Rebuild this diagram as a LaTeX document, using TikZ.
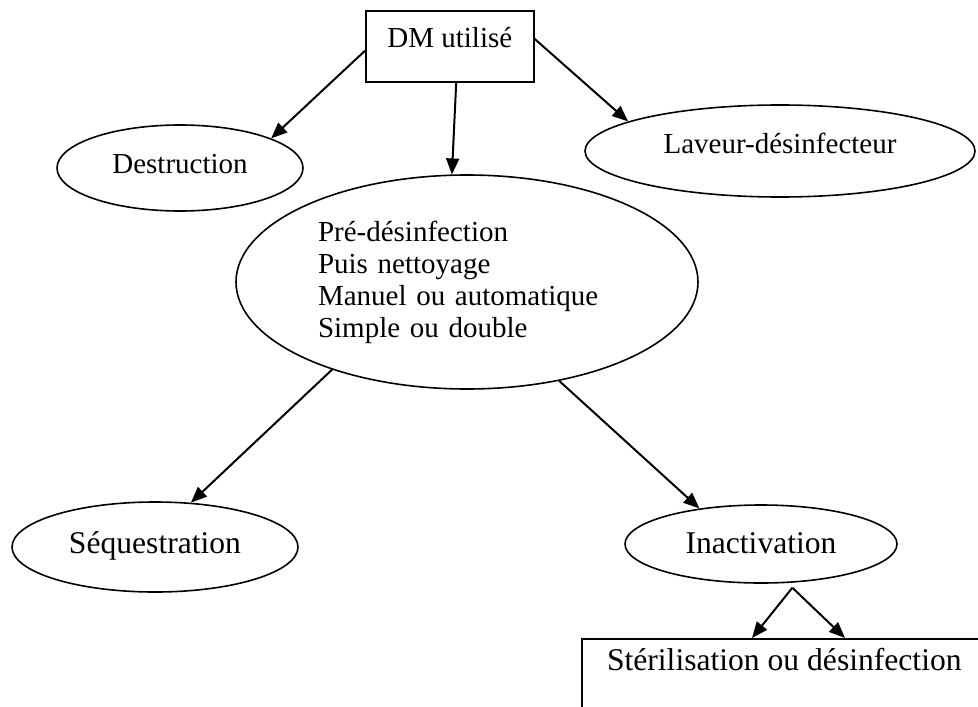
\documentclass[tikz,border=0pt]{standalone}
\usepackage{fontspec}
\setmainfont{Liberation Serif}
\usepackage{tikz}
\usetikzlibrary{shapes.geometric, arrows.meta}

\begin{document}
\begin{tikzpicture}[
    x=0.5pt, y=-0.5pt,
    box/.style={rectangle, draw, line width=0.8pt, inner sep=0pt, anchor=north west},
    oval/.style={ellipse, draw, line width=0.8pt, inner sep=0pt},
    small/.style={font=\fontsize{14.5}{16}\selectfont},
    large/.style={font=\fontsize{15.8}{18}\selectfont},
    link/.style={-{Triangle[length=8pt, width=6.5pt]}, line width=1pt}
  ]
    \useasboundingbox (0,0) rectangle (978,706);
    \clip (0,0) rectangle (978,706);

    % Nodes
    \node (dm) [box, small, minimum width=84pt, text height=18.5pt, text depth=17pt] at (365,10) {DM utilisé};
    \node (destr) [oval, small, minimum width=123pt, minimum height=43pt, text height=10pt, text depth=5pt] at (180,168) {Destruction};
    \node (lav) [oval, small, minimum width=195pt, minimum height=46pt, text height=10pt, text depth=8pt] at (780,151) {Laveur-désinfecteur};
    \node (pre) [oval, small, minimum width=231pt, minimum height=107pt, text width=149pt, align=left] at (467,282)
      {Pré-désinfection\\ Puis nettoyage\\ Manuel ou automatique\\ Simple ou double};
    \node (seq) [oval, large, minimum width=143pt, minimum height=45pt, text height=10.7pt, text depth=4.7pt] at (155,547) {Séquestration};
    \node (inact) [oval, large, minimum width=136pt, minimum height=39pt, text height=10.7pt, text depth=1.7pt] at (761,544) {Inactivation};
    \node (steril) [box, large, minimum width=202.5pt, text height=16pt, text depth=35pt] at (581,638) {Stérilisation ou désinfection};
    \coordinate (split) at ([yshift=-2.5pt]inact.-51);

    % Connections
    \draw [link] (dm.183) -- (destr.18);
    \draw [link] (dm.-80) -- (pre.98);
    \draw [link] (dm.5) -- (lav.169);
    \draw [link] (pre.213) -- (seq.51);
    \draw [link] (pre.-47) -- (inact.150);
    \draw [link] (split) -- ([xshift=85.5pt]steril.north west);
    \draw [link] (split) -- ([xshift=132pt]steril.north west);

  \end{tikzpicture}
\end{document}
